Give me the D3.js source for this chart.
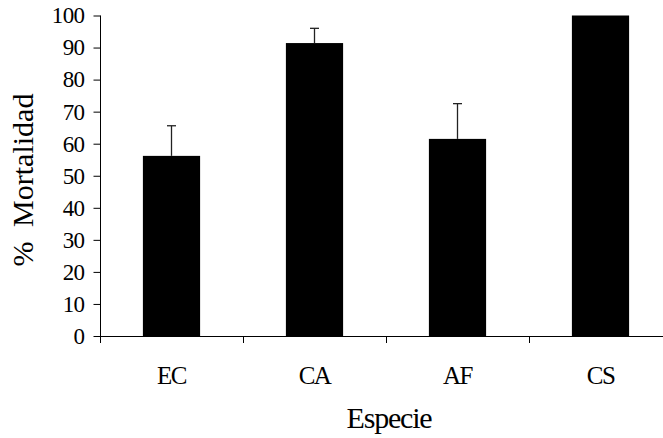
<!DOCTYPE html>
<html>
<head>
<meta charset="utf-8">
<script src="https://cdn.jsdelivr.net/npm/d3@7/dist/d3.min.js"></script>
<style>
  html, body { margin: 0; padding: 0; background: #fff; overflow: hidden; }
  svg { display: block; }
  text { font-family: "Liberation Serif", "Times New Roman", serif; fill: #000; }
</style>
</head>
<body>
<svg id="chart" width="663" height="438"></svg>
<script>
// Mortality per species (%), with the upper error bound
const categories = ["EC", "CA", "AF", "CS"];
const mortality = [56.2, 91.4, 61.5, 100];
const errorTop = [65.6, 96.0, 72.5, 100];
const yTicks = [0, 10, 20, 30, 40, 50, 60, 70, 80, 90, 100];

const svg = d3.select("#chart");

const x = d3.scaleBand()
  .domain(categories)
  .range([100, 672])
  .paddingInner(0.6)
  .paddingOuter(0.3);

const y = d3.scaleLinear().domain([0, 100]).range([336, 15.5]);

// Bars
svg.append("g").selectAll("rect")
  .data(categories)
  .join("rect")
  .attr("x", d => x(d))
  .attr("y", (d, i) => y(mortality[i]))
  .attr("width", x.bandwidth())
  .attr("height", (d, i) => y(0) - y(mortality[i]))
  .attr("fill", "#000");

// Upper error bars
const err = svg.append("g").attr("stroke", "#222").attr("stroke-width", 1.3);
categories.forEach((c, i) => {
  if (errorTop[i] <= mortality[i]) return;
  const cx = Math.round(x(c) + x.bandwidth() / 2) - 0.5;
  err.append("line").attr("x1", cx).attr("x2", cx)
    .attr("y1", y(mortality[i])).attr("y2", y(errorTop[i]));
  err.append("line").attr("x1", cx - 4.5).attr("x2", cx + 4.5)
    .attr("y1", y(errorTop[i])).attr("y2", y(errorTop[i]));
});

// Y axis
const yAxis = svg.append("g")
  .attr("transform", "translate(100.5,0)")
  .call(d3.axisLeft(y).tickValues(yTicks).tickSize(7).tickSizeOuter(0).tickPadding(9));
yAxis.select(".domain").attr("d", `M0,${y(100)}V343`).attr("stroke", "#000");
yAxis.selectAll(".tick line").attr("stroke", "#000");
yAxis.selectAll(".tick text")
  .style("font-size", "23px")
  .style("letter-spacing", "-0.6px")
  .attr("font-family", null);

// X axis: baseline with ticks at category boundaries
const xAxis = svg.append("g");
xAxis.append("line")
  .attr("x1", 100).attr("x2", 672)
  .attr("y1", 336.5).attr("y2", 336.5)
  .attr("stroke", "#000");
const bounds = categories.map(c => x(c) - x.step() * x.paddingOuter()).concat([672]);
xAxis.selectAll("line.tk")
  .data(bounds)
  .join("line")
  .attr("class", "tk")
  .attr("x1", d => Math.round(d) + 0.5).attr("x2", d => Math.round(d) + 0.5)
  .attr("y1", 336).attr("y2", 343)
  .attr("stroke", "#000");
xAxis.selectAll("text")
  .data(categories)
  .join("text")
  .attr("x", d => x(d) + x.bandwidth() / 2)
  .attr("y", 384)
  .attr("text-anchor", "middle")
  .style("font-size", "25px")
  .style("letter-spacing", "-1.5px")
  .text(d => d);

// Axis titles
svg.append("text")
  .attr("x", 389)
  .attr("y", 428)
  .attr("text-anchor", "middle")
  .style("font-size", "30px")
  .style("letter-spacing", "-1.2px")
  .text("Especie");

svg.append("text")
  .attr("transform", "translate(33,180) rotate(-90)")
  .attr("text-anchor", "middle")
  .style("font-size", "30px")
  .style("word-spacing", "7px")
  .text("% Mortalidad");
</script>
</body>
</html>
